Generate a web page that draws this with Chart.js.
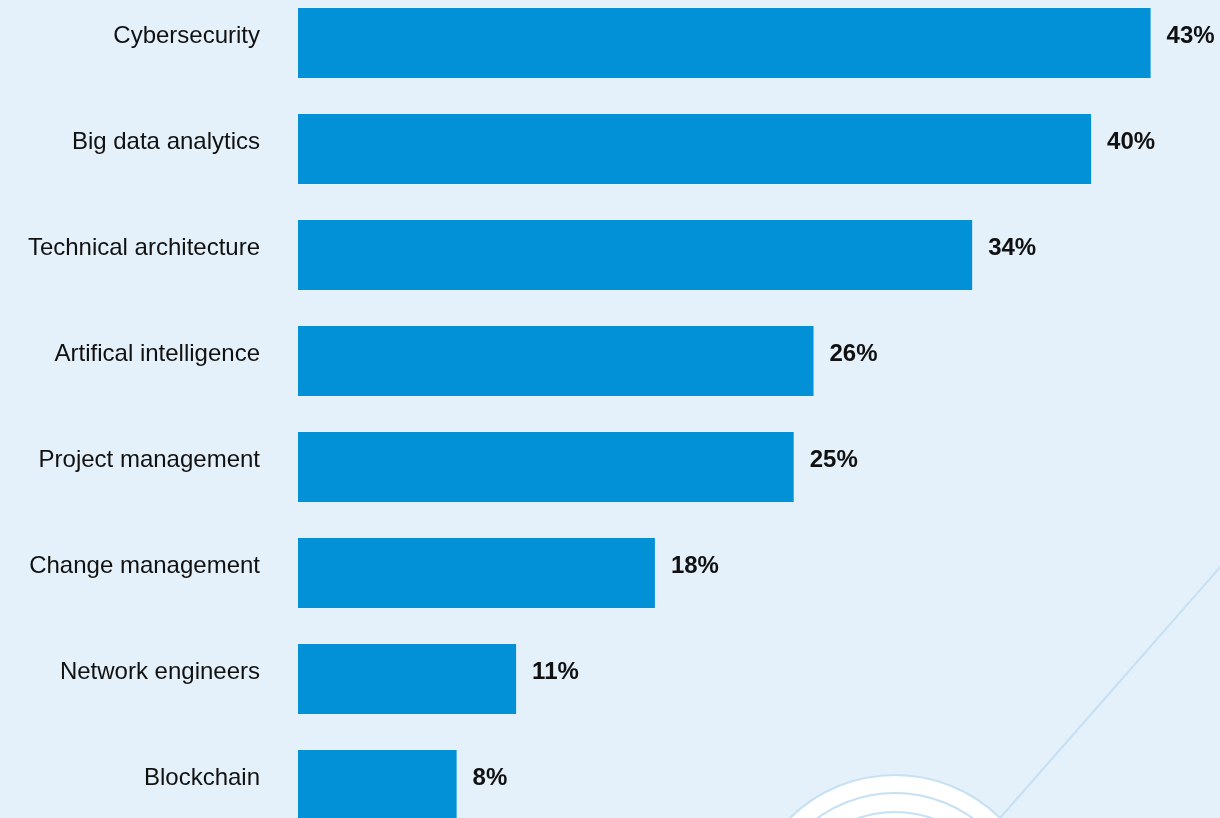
<!DOCTYPE html>
<html>
<head>
<meta charset="utf-8">
<script src="https://cdn.jsdelivr.net/npm/chart.js@4"></script>
<style>
  html, body { margin: 0; padding: 0; overflow: hidden; background: #e4f1fa; }
  #skillsChart { position: absolute; left: 0; top: -10px; }
</style>
</head>
<body>
<canvas id="skillsChart" width="1220" height="848"></canvas>
<script>
const categories = [
  "Cybersecurity",
  "Big data analytics",
  "Technical architecture",
  "Artifical intelligence",
  "Project management",
  "Change management",
  "Network engineers",
  "Blockchain",
];
const shares = [43, 40, 34, 26, 25, 18, 11, 8];

// faint circles and line in the background, bottom right
const backdrop = {
  id: "backdrop",
  beforeDraw(chart) {
    const ctx = chart.ctx;
    ctx.save();
    ctx.fillStyle = "#e4f1fa";
    ctx.fillRect(0, 0, chart.width, chart.height);
    ctx.strokeStyle = "#c6e0f4";
    ctx.lineWidth = 2;
    ctx.beginPath();
    ctx.moveTo(1222, 575);
    ctx.lineTo(1000, 828);
    ctx.stroke();
    ctx.beginPath();
    ctx.arc(895, 935, 150, 0, Math.PI * 2);
    ctx.fillStyle = "#ffffff";
    ctx.fill();
    ctx.stroke();
    [132, 113].forEach((r) => {
      ctx.beginPath();
      ctx.arc(895, 935, r, 0, Math.PI * 2);
      ctx.stroke();
    });
    ctx.restore();
  },
};

const valueLabels = {
  id: "valueLabels",
  afterDatasetsDraw(chart) {
    const ctx = chart.ctx;
    const meta = chart.getDatasetMeta(0);
    ctx.save();
    ctx.font = "bold 24px 'Liberation Sans', Arial, sans-serif";
    ctx.fillStyle = "#111111";
    ctx.textBaseline = "middle";
    meta.data.forEach((bar, i) => {
      ctx.fillText(shares[i] + "%", bar.x + 16, bar.y - 7);
    });
    ctx.restore();
  },
};

new Chart(document.querySelector("#skillsChart"), {
  type: "bar",
  data: {
    labels: categories,
    datasets: [
      {
        data: shares,
        backgroundColor: "#0290d6",
        borderWidth: 0,
        categoryPercentage: 1,
        barPercentage: 70 / 106,
      },
    ],
  },
  options: {
    indexAxis: "y",
    responsive: false,
    animation: false,
    layout: { padding: 0 },
    plugins: {
      legend: { display: false },
      tooltip: { enabled: false },
    },
    scales: {
      x: {
        display: false,
        min: 0,
        max: 46.5,
      },
      y: {
        grid: { display: false, drawTicks: false },
        border: { display: false },
        ticks: {
          padding: 38,
          labelOffset: -7,
          color: "#111111",
          font: { family: "'Liberation Sans', Arial, sans-serif", size: 24 },
        },
        afterFit(scale) {
          scale.width = 298;
          scale.paddingTop = 0;
          scale.paddingBottom = 0;
        },
      },
    },
  },
  plugins: [backdrop, valueLabels],
});
</script>
</body>
</html>
